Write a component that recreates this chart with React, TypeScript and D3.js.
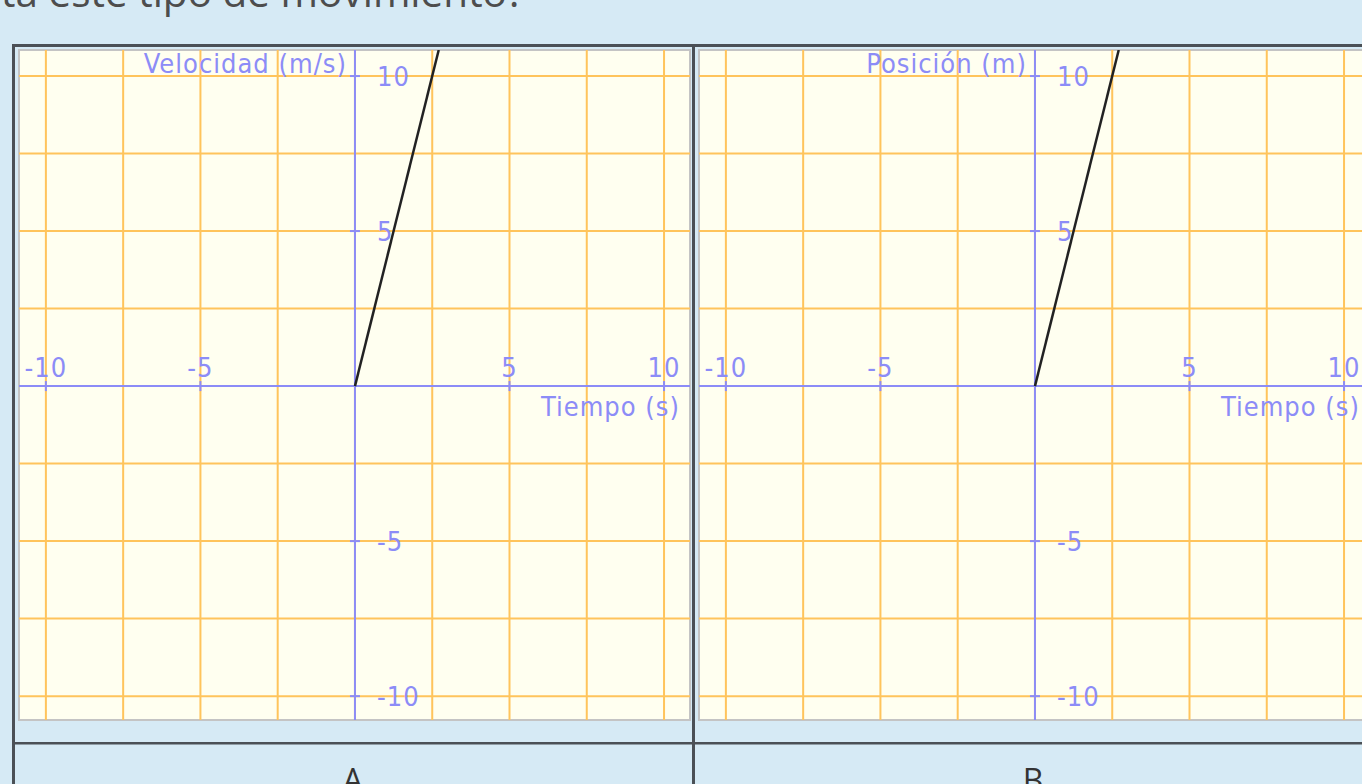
import React, { useEffect, useRef } from 'react';
import * as d3 from 'd3';

// chart values
const panelLetters = ['A', 'B'];
const yTitles = ['Velocidad (m/s)', 'Posición (m)'];
const xTitle = 'Tiempo (s)';
const gridValues = [-10, -7.5, -5, -2.5, 0, 2.5, 5, 7.5, 10];
const tickValues = [-10, -5, 5, 10];
const tickLabels = ['-10', '-5', '5', '10'];
const lineTime = [0, 2.71];
const lineValue = [0, 10.84];
const headerText = 'ta este tipo de movimiento?';

const W = 1362;
const H = 784;

const App = () => {
  const svgRef = useRef<SVGSVGElement>(null);

  useEffect(() => {
    const svg = d3.select(svgRef.current);
    svg.selectAll('*').remove();

    svg.append('rect').attr('width', W).attr('height', H).attr('fill', '#d6eaf5');

    svg
      .append('text')
      .attr('x', 1)
      .attr('y', 7)
      .attr('font-family', 'Open Sans, sans-serif')
      .attr('font-size', 40.5)
      .attr('fill', '#4d4d4d')
      .text(headerText);

    const cellW = 680;
    const labelFont = 'DejaVu Sans Condensed, sans-serif';
    const blue = '#8c8cf7';
    const orange = '#ffc45c';
    const fs = 27;

    panelLetters.forEach((letter, i) => {
      const dx = i * cellW;
      const x = d3.scaleLinear().domain([-10.87, 10.84]).range([19 + dx, 690 + dx]);
      const y = d3.scaleLinear().domain([-10.77, 10.84]).range([720, 50]);
      const g = svg.append('g');

      const clipId = `clip-${i}`;
      g.append('clipPath')
        .attr('id', clipId)
        .append('rect')
        .attr('x', x.range()[0])
        .attr('y', 50)
        .attr('width', x.range()[1] - x.range()[0])
        .attr('height', 670);

      g.append('rect')
        .attr('x', x.range()[0])
        .attr('y', 50)
        .attr('width', x.range()[1] - x.range()[0])
        .attr('height', 670)
        .attr('fill', '#fffff0')
        .attr('stroke', '#c4c4c4')
        .attr('stroke-width', 2);

      const inner = g.append('g').attr('clip-path', `url(#${clipId})`);

      inner
        .selectAll('.gx')
        .data(gridValues)
        .enter()
        .append('line')
        .attr('x1', d => x(d))
        .attr('x2', d => x(d))
        .attr('y1', 50)
        .attr('y2', 720)
        .attr('stroke', orange)
        .attr('stroke-width', 2);

      inner
        .selectAll('.gy')
        .data(gridValues)
        .enter()
        .append('line')
        .attr('y1', d => y(d))
        .attr('y2', d => y(d))
        .attr('x1', x.range()[0])
        .attr('x2', x.range()[1])
        .attr('stroke', orange)
        .attr('stroke-width', 2);

      // axes
      inner
        .append('line')
        .attr('x1', x.range()[0])
        .attr('x2', x.range()[1])
        .attr('y1', y(0))
        .attr('y2', y(0))
        .attr('stroke', blue)
        .attr('stroke-width', 2);
      inner
        .append('line')
        .attr('x1', x(0))
        .attr('x2', x(0))
        .attr('y1', 50)
        .attr('y2', 720)
        .attr('stroke', blue)
        .attr('stroke-width', 2);

      inner
        .selectAll('.tx')
        .data(tickValues)
        .enter()
        .append('line')
        .attr('x1', d => x(d))
        .attr('x2', d => x(d))
        .attr('y1', y(0) - 5)
        .attr('y2', y(0) + 5)
        .attr('stroke', blue)
        .attr('stroke-width', 2);
      inner
        .selectAll('.ty')
        .data(tickValues)
        .enter()
        .append('line')
        .attr('y1', d => y(d))
        .attr('y2', d => y(d))
        .attr('x1', x(0) - 5)
        .attr('x2', x(0) + 5)
        .attr('stroke', blue)
        .attr('stroke-width', 2);

      const txt = (sel: any) =>
        sel
          .attr('font-family', labelFont)
          .attr('font-size', fs)
          .attr('letter-spacing', 1)
          .attr('fill', blue);

      inner
        .selectAll('.lx')
        .data(tickValues)
        .enter()
        .append('text')
        .attr('x', d => x(d))
        .attr('y', y(0) - 9)
        .attr('text-anchor', 'middle')
        .call(txt)
        .text((d, k) => tickLabels[k]);
      inner
        .selectAll('.ly')
        .data(tickValues)
        .enter()
        .append('text')
        .attr('x', x(0) + 22)
        .attr('y', d => y(d))
        .attr('dy', '0.36em')
        .call(txt)
        .text((d, k) => tickLabels[k]);

      inner
        .append('text')
        .attr('x', x(0) - 8)
        .attr('y', 73)
        .attr('text-anchor', 'end')
        .call(txt)
        .text(yTitles[i]);
      inner
        .append('text')
        .attr('x', x(0) + 325)
        .attr('y', 416)
        .attr('text-anchor', 'end')
        .call(txt)
        .text(xTitle);

      const line = d3
        .line<number>()
        .x((d, k) => x(lineTime[k]))
        .y(d => y(d));
      inner
        .append('path')
        .attr('d', line(lineValue))
        .attr('fill', 'none')
        .attr('stroke', '#222')
        .attr('stroke-width', 2.5);

      svg
        .append('text')
        .attr('x', x(0) - 2)
        .attr('y', 792)
        .attr('text-anchor', 'middle')
        .attr('font-family', 'Open Sans, sans-serif')
        .attr('font-size', 32)
        .attr('fill', '#333')
        .text(letter);
    });

    // table borders
    const border = '#4b5056';
    svg.append('rect').attr('x', 12).attr('y', 44).attr('width', 3).attr('height', H - 44).attr('fill', border);
    svg.append('rect').attr('x', 12).attr('y', 44).attr('width', W - 12).attr('height', 3).attr('fill', border);
    svg.append('rect').attr('x', 692).attr('y', 44).attr('width', 3).attr('height', H - 44).attr('fill', border);
    svg.append('rect').attr('x', 12).attr('y', 742).attr('width', W - 12).attr('height', 2.5).attr('fill', border);
  }, []);

  return (
    <div style={{ position: 'fixed', left: 0, top: 0 }}>
      <svg ref={svgRef} width={W} height={H} style={{ display: 'block' }} />
    </div>
  );
};

export default App;
